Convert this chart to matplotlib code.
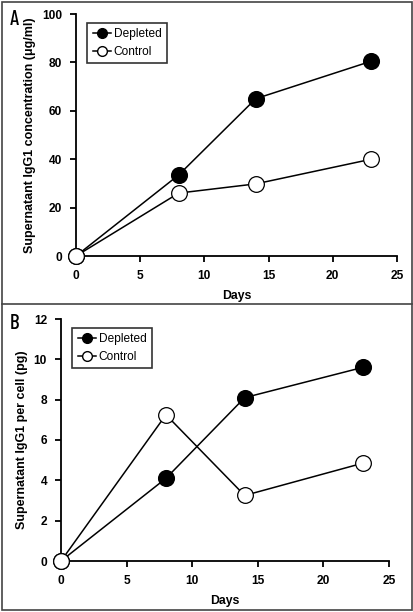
import matplotlib
matplotlib.use("Agg")
import matplotlib.pyplot as plt
from matplotlib.lines import Line2D
from matplotlib.patches import Rectangle

plt.rcParams['font.family'] = ['Liberation Sans', 'DejaVu Sans']

days = [0, 8, 14, 23]
a_depleted = [0, 33.5, 65, 80.5]
a_control = [0, 26, 29.8, 40]
b_depleted = [0, 4.1, 8.1, 9.6]
b_control = [0, 7.25, 3.25, 4.85]

W, H = 414, 612
fig = plt.figure(figsize=(W / 100, H / 100), dpi=100)

def ax_rect(l, t, r, b):
    return [l / W, 1 - b / H, (r - l) / W, (b - t) / H]

def style(ax, ylim, yticks, ylabel):
    ax.set_xlim(0, 25)
    ax.set_ylim(*ylim)
    ax.set_xticks([0, 5, 10, 15, 20, 25])
    ax.set_yticks(yticks)
    for s in ['top', 'right']:
        ax.spines[s].set_visible(False)
    for s in ['left', 'bottom']:
        ax.spines[s].set_linewidth(1.3)
    ax.tick_params(direction='out', length=4, width=1.3, labelsize=8.6, pad=6)
    for lab in ax.get_xticklabels() + ax.get_yticklabels():
        lab.set_fontweight('bold')
    ax.set_xlabel('Days', fontsize=8.8, fontweight='bold', labelpad=6)
    ax.set_ylabel(ylabel, fontsize=9, fontweight='bold', labelpad=4)

def plot(ax, dep, con):
    ax.plot(days, dep, '-', color='black', lw=1.1, marker='o', ms=11.3,
            mfc='black', mec='black', clip_on=False, zorder=3)
    ax.plot(days, con, '-', color='black', lw=1.1, marker='o', ms=11.3,
            mfc='white', mec='black', mew=0.9, clip_on=False, zorder=4)

def legend(ax):
    h1 = Line2D([], [], color='black', lw=1.1, marker='o', ms=7, mfc='black', mec='black')
    h2 = Line2D([], [], color='black', lw=1.1, marker='o', ms=7, mfc='white', mec='black')
    leg = ax.legend([h1, h2], ['Depleted', 'Control'], loc='upper left',
                    bbox_to_anchor=(0.035, 0.963), fontsize=8.6, frameon=True,
                    fancybox=False, edgecolor='black', handlelength=1.5,
                    handletextpad=0.25, borderpad=0.45, labelspacing=0.45,
                    borderaxespad=0)
    leg.get_frame().set_linewidth(1.2)

axA = fig.add_axes(ax_rect(76, 14, 397, 256))
plot(axA, a_depleted, a_control)
style(axA, (0, 100), [0, 20, 40, 60, 80, 100], 'Supernatant IgG1 concentration (\u03bcg/ml)')
legend(axA)

axB = fig.add_axes(ax_rect(61, 319, 389, 561))
plot(axB, b_depleted, b_control)
style(axB, (0, 12), [0, 2, 4, 6, 8, 10, 12], 'Supernatant IgG1 per cell (pg)')
legend(axB)

# frames
fig.patches.append(Rectangle((2 / W, 2 / H), (W - 4) / W, (H - 4) / H, transform=fig.transFigure,
                             fill=False, edgecolor='#444444', lw=1.2))
fig.add_artist(Line2D([2 / W, (W - 2) / W], [1 - 304 / H, 1 - 304 / H], transform=fig.transFigure,
                      color='#444444', lw=1.2))

fig.text(9.5 / W, 1 - 19.5 / H, 'A', fontsize=15, fontweight=500,
         family=['Barlow Condensed', 'DejaVu Sans'], va='center', ha='left')
fig.text(9.5 / W, 1 - 323.5 / H, 'B', fontsize=15, fontweight=500,
         family=['Barlow Condensed', 'DejaVu Sans'], va='center', ha='left')

fig.savefig('out.png', dpi=100)
